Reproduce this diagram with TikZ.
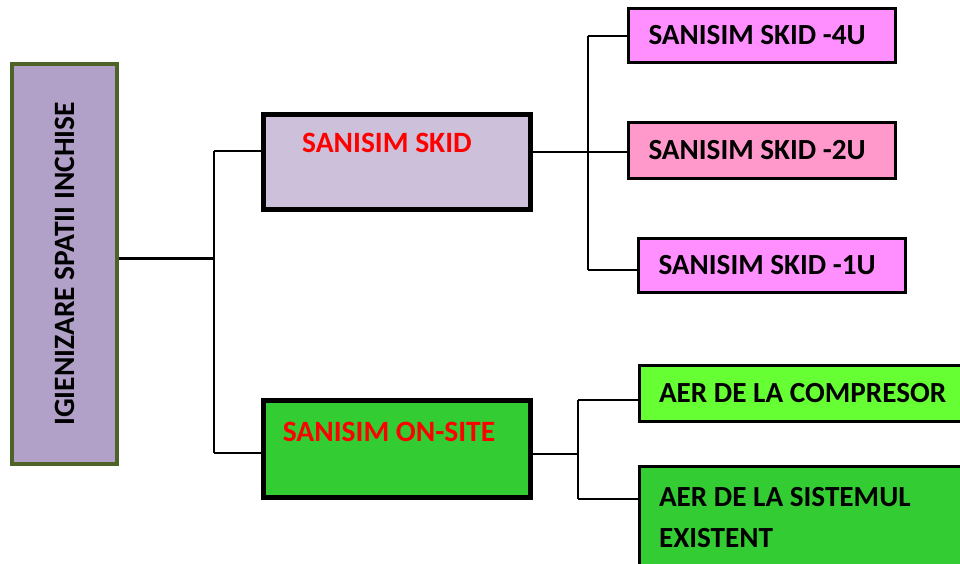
\documentclass[tikz,border=0pt]{standalone}
\usepackage{fontspec}
\setmainfont{Carlito}
\definecolor{rootfill}{HTML}{B1A0C7}
\definecolor{rootline}{HTML}{4F6228}
\definecolor{skidfill}{HTML}{CCC0DA}
\definecolor{sitefill}{HTML}{33CC33}
\definecolor{violetpink}{HTML}{FF8FFF}
\definecolor{rosepink}{HTML}{FF99CC}
\definecolor{lightgreen}{HTML}{66FF33}
\begin{document}
\begin{tikzpicture}[x=1pt,y=-1pt,
  every node/.style={font=\bfseries\fontsize{29.2}{41}\selectfont},
  bigbox/.style={draw=black, line width=5pt, minimum width=267pt, minimum height=95pt},
  smallbox/.style={draw=black, line width=3pt, inner xsep=20pt, text width=227pt, align=flush left, minimum height=54pt},
  aerbox/.style={smallbox, text width=300pt},
  redtxt/.style={text=red, inner sep=0pt, font=\bfseries\fontsize{29.5}{36}\selectfont},
  conn/.style={line width=2pt}]
  \useasboundingbox (0,0) rectangle (960,564);
  \node[draw=rootline, line width=4pt, fill=rootfill, minimum width=105pt, minimum height=400pt, inner sep=0pt, font=\bfseries\fontsize{29.5}{36}\selectfont] (root) at (64.5,264) {\rotatebox{90}{IGIENIZARE SPATII INCHISE}};
  \node[bigbox, fill=skidfill] (skid) at (397,162) {};
  \node[bigbox, fill=sitefill, minimum height=97pt] (site) at (397,449) {};
  \node[redtxt] (skidtxt) at (387,143) {SANISIM SKID};
  \node[redtxt] (sitetxt) at (389,432) {SANISIM ON-SITE};
  \node[smallbox, fill=violetpink] (skid4) at (762,35.5) {SANISIM SKID -4U};
  \node[smallbox, fill=rosepink, minimum height=56pt] (skid2) at (762,150.5) {SANISIM SKID -2U};
  \node[smallbox, fill=violetpink] (skid1) at (772,265.5) {SANISIM SKID -1U};
  \node[aerbox, fill=lightgreen, minimum height=56pt, anchor=west] (compr) at (637.5,393.5) {AER DE LA COMPRESOR};
  \node[aerbox, fill=sitefill, minimum height=102pt, anchor=west] (exist) at (637.5,517.5) {AER DE LA SISTEMUL\\EXISTENT};
  % root branch
  \coordinate (j0) at (214,258);
  \coordinate (j1) at (214,151);
  \coordinate (j2) at (214,453);
  \draw[line width=3pt] (root.east |- j0) -- (j0);
  \draw[conn] (j1) -- (j2);
  \draw[conn] (j1) -- (skid.west |- j1);
  \draw[conn] (j2) -- (site.west |- j2);
  % skid branch
  \coordinate (k0) at (588,152);
  \coordinate (k1) at (588,36);
  \coordinate (k3) at (588,270);
  \draw[conn] (skid.east |- k0) -- (k0);
  \draw[conn] (k1) -- (k3);
  \draw[conn] (k1) -- (skid4.west |- k1);
  \draw[conn] (k0) -- (skid2.west |- k0);
  \draw[conn] (k3) -- (skid1.west |- k3);
  % on-site branch
  \coordinate (s0) at (578,454);
  \coordinate (s1) at (578,400);
  \coordinate (s2) at (578,499);
  \draw[conn] (site.east |- s0) -- (s0);
  \draw[conn] (s1) -- (s2);
  \draw[conn] (s1) -- (compr.west |- s1);
  \draw[conn] (s2) -- (exist.west |- s2);
\end{tikzpicture}
\end{document}
